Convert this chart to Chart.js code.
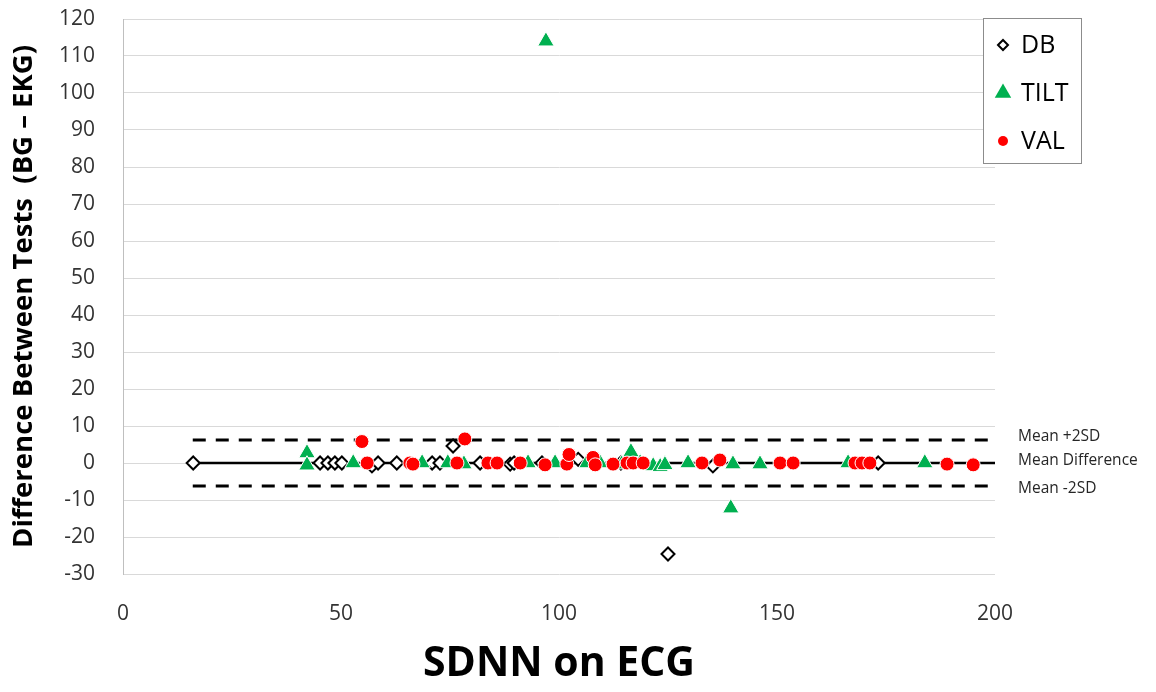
<!DOCTYPE html>
<html>
<head>
<meta charset="utf-8">
<script src="https://cdn.jsdelivr.net/npm/chart.js@4.4.1/dist/chart.umd.min.js"></script>
<style>
  html, body { margin: 0; padding: 0; background: #fff; }
  #wrap { width: 1156px; height: 692px; position: relative; }
</style>
</head>
<body>
<div id="wrap"><canvas id="myChart"></canvas></div>
<script>
// SDNN on ECG (x) vs difference between tests (y), one array pair per test
const dbX = [16.1, 45.2, 47.0, 48.6, 50.2, 57.1, 58.5, 62.8, 70.9, 72.7, 75.7, 81.9, 88.8, 89.7, 96.1, 104.4, 114.2, 125.0, 135.3, 173.2];
const dbY = [0, 0, 0, 0, 0, -0.8, 0, 0, 0, 0, 4.6, 0, -0.3, 0, 0, 1.0, 0, -24.6, -0.8, 0];

const tiltX = [42.2, 42.2, 52.8, 68.6, 74.5, 78.2, 92.9, 97.0, 99.1, 106.4, 109.4, 114.4, 116.5, 118.6, 121.6, 123.2, 124.3, 129.6, 139.4, 139.9, 146.1, 166.3, 183.9];
const tiltY = [2.7, -0.6, 0, 0, 0, -0.3, 0, 114.0, 0, 0, 0, -0.3, 3.0, 0, -0.8, -1.0, -0.5, 0, -12.2, -0.3, -0.3, 0, 0];

const valX = [54.8, 56.0, 65.8, 66.5, 76.6, 78.4, 83.7, 85.8, 91.1, 96.8, 101.8, 102.3, 107.8, 108.3, 112.4, 115.6, 117.0, 119.3, 132.8, 136.9, 150.7, 153.7, 167.9, 169.5, 171.3, 189.0, 195.0];
const valY = [5.8, 0, 0, -0.3, 0, 6.5, 0, 0, 0, -0.5, -0.3, 2.3, 1.5, -0.5, -0.3, 0, 0, 0, 0, 0.8, 0, 0, 0, 0, 0, -0.3, -0.5];

// Bland-Altman reference lines
const meanDiff = 0;
const upper2SD = 6.2;
const lower2SD = -6.2;
const lineSpan = [16, 200];
const refLabels = ['Mean +2SD', 'Mean Difference', 'Mean -2SD'];

const xTickValues = [0, 50, 100, 150, 200];
const yTickValues = [-30, -20, -10, 0, 10, 20, 30, 40, 50, 60, 70, 80, 90, 100, 110, 120];

const FONT = "'Open Sans', sans-serif";

const toPoints = (xs, ys) => xs.map((x, i) => ({ x: x, y: ys[i] }));
const hLine = (y) => lineSpan.map(x => ({ x: x, y: y }));

const data = {
  datasets: [
    {
      label: 'DB',
      data: toPoints(dbX, dbY),
      pointStyle: 'rectRot',
      pointRadius: 6.5,
      backgroundColor: '#ffffff',
      borderColor: '#000000',
      borderWidth: 2,
      order: 3
    },
    {
      label: 'TILT',
      data: toPoints(tiltX, tiltY),
      pointStyle: 'triangle',
      pointRadius: 9.5,
      backgroundColor: '#00b050',
      borderColor: '#ffffff',
      borderWidth: 1,
      order: 2
    },
    {
      label: 'VAL',
      data: toPoints(valX, valY),
      pointStyle: 'circle',
      pointRadius: 7,
      backgroundColor: '#ff0000',
      borderColor: '#ffffff',
      borderWidth: 1,
      order: 1
    },
    {
      label: refLabels[0],
      type: 'line',
      data: hLine(upper2SD),
      borderColor: '#000',
      borderWidth: 3,
      borderDash: [13, 10],
      pointRadius: 0,
      order: 10,
      isRef: true
    },
    {
      label: refLabels[1],
      type: 'line',
      data: hLine(meanDiff),
      borderColor: '#000',
      borderWidth: 2.5,
      pointRadius: 0,
      order: 10,
      isRef: true
    },
    {
      label: refLabels[2],
      type: 'line',
      data: hLine(lower2SD),
      borderColor: '#000',
      borderWidth: 3,
      borderDash: [13, 10],
      pointRadius: 0,
      order: 10,
      isRef: true
    }
  ]
};

// boxed legend in the top-right corner of the plot
const boxLegend = {
  id: 'boxLegend',
  afterDraw(chart) {
    const ctx = chart.ctx;
    const ds = chart.data.datasets.filter(d => !d.isRef);
    const left = 983, top = 18, w = 98, h = 145;
    const sizes = { rectRot: 5, triangle: 9.5, circle: 5 };
    ctx.save();
    ctx.fillStyle = '#fff';
    ctx.fillRect(left, top, w, h);
    ctx.strokeStyle = '#8c8c8c';
    ctx.lineWidth = 1;
    ctx.strokeRect(left + 0.5, top + 0.5, w, h);
    ds.forEach((d, i) => {
      const y = top + 27 + i * 48;
      const isDiamond = d.pointStyle === 'rectRot';
      ctx.fillStyle = d.backgroundColor;
      ctx.strokeStyle = isDiamond ? '#000' : d.backgroundColor;
      ctx.lineWidth = isDiamond ? 2 : 0.01;
      Chart.helpers.drawPoint(ctx, {
        pointStyle: d.pointStyle, radius: sizes[d.pointStyle], rotation: 0,
        borderWidth: ctx.lineWidth
      }, left + 20, y);
      ctx.fillStyle = '#000';
      ctx.font = '25px ' + FONT;
      ctx.textBaseline = 'middle';
      ctx.textAlign = 'left';
      ctx.fillText(d.label, left + 38, y + 1);
    });
    ctx.restore();
  }
};

// labels for the mean and +/-2SD lines, right of the plot
const refLineLabels = {
  id: 'refLineLabels',
  afterDraw(chart) {
    const ctx = chart.ctx;
    const ys = chart.scales.y;
    const x = chart.chartArea.right + 23;
    const vals = [upper2SD, meanDiff, lower2SD];
    const nudge = [-3, -2, 3];
    ctx.save();
    ctx.fillStyle = '#262626';
    ctx.font = '15.5px ' + FONT;
    ctx.textBaseline = 'middle';
    ctx.textAlign = 'left';
    refLabels.forEach((t, i) => ctx.fillText(t, x, ys.getPixelForValue(vals[i]) + nudge[i]));
    ctx.restore();
  }
};

const config = {
  type: 'scatter',
  data: data,
  options: {
    responsive: true,
    maintainAspectRatio: false,
    animation: false,
    layout: { padding: { left: 0, right: 161, top: 0, bottom: 0 } },
    plugins: {
      legend: { display: false },
      tooltip: { enabled: false }
    },
    scales: {
      x: {
        type: 'linear',
        min: 0,
        max: 200,
        afterBuildTicks: (s) => { s.ticks = xTickValues.map(v => ({ value: v })); },
        afterFit: (s) => { s.height = 118; },
        grid: { display: false, drawTicks: false },
        border: { display: false },
        ticks: { padding: 27, color: '#333333', font: { family: FONT, size: 21 } },
        title: {
          display: true,
          text: 'SDNN on ECG',
          color: '#000',
          font: { family: FONT, size: 41, weight: 'bold' },
          padding: { top: 0, bottom: 3 }
        }
      },
      y: {
        type: 'linear',
        min: -30,
        max: 120,
        afterBuildTicks: (s) => { s.ticks = yTickValues.map(v => ({ value: v })); },
        afterFit: (s) => {
          s.width = 123;
          s.paddingTop = 19;
          s.paddingBottom = 0;
        },
        grid: { color: '#d9d9d9', lineWidth: 1, drawTicks: false },
        border: { display: true, color: '#bfbfbf', width: 1 },
        ticks: { padding: 28, color: '#333333', font: { family: FONT, size: 21 } },
        title: {
          display: true,
          text: 'Difference Between Tests  (BG \u2013 EKG)',
          color: '#000',
          font: { family: FONT, size: 27.5, weight: 'bold' },
          padding: { top: 8, bottom: 0 }
        }
      }
    }
  },
  plugins: [boxLegend, refLineLabels]
};

var ctx = document.getElementById('myChart');
var myChart = new Chart(ctx, config);
</script>
</body>
</html>
